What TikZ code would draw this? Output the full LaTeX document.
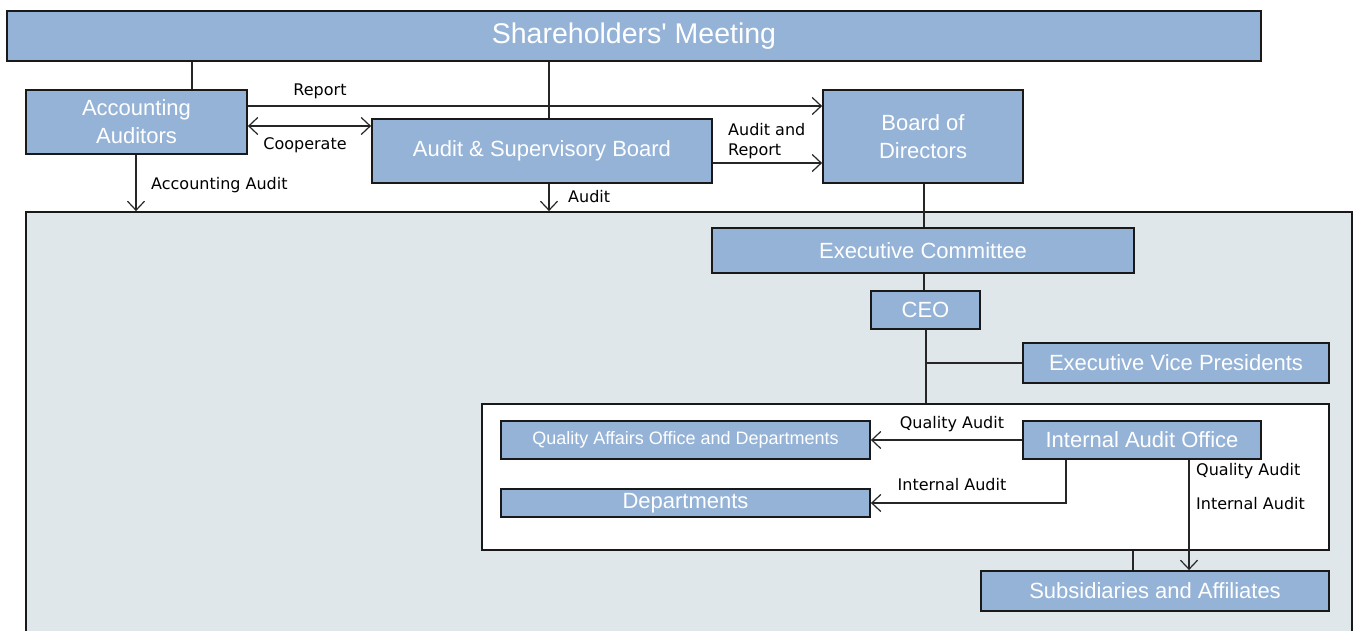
\documentclass[tikz,border=0pt]{standalone}
\usepackage{fontspec}
\setmainfont{Liberation Sans}
\newfontfamily\lblfont{DejaVu Sans}
\usetikzlibrary{arrows.meta}
\definecolor{boxblue}{RGB}{149,179,215}
\definecolor{panelgray}{RGB}{223,231,235}

\begin{document}
\begin{tikzpicture}[x=1pt,y=-1pt,>={Straight Barb[length=9pt,width=17pt]}]
  \tikzstyle{box}=[rectangle,draw=black!90,line width=1.8pt,fill=boxblue,text=white,inner sep=0pt,align=center,font=\fontsize{22}{28}\selectfont]
  \tikzstyle{frame}=[rectangle,draw=black!90,line width=1.8pt,inner sep=0pt]
  \tikzstyle{line}=[draw=black!85,line width=1.2pt]
  \tikzstyle{arr}=[line,->]
  \tikzstyle{lbl}=[inner sep=0pt,font=\lblfont\fontsize{16}{20}\selectfont]

  \clip (0,0) rectangle (1357,631);

  \node[frame, fill=panelgray, minimum width=1326pt, minimum height=450pt] (grp) at (689, 437) {};
  \node[frame, fill=white, minimum width=847pt, minimum height=146pt] (inner) at (905.5, 477) {};

  \node[box, minimum width=1254pt, minimum height=50pt, font=\fontsize{28.5}{30}\selectfont] (sh) at (634, 36) {Shareholders\textquotesingle{} Meeting};
  \node[box, minimum width=221pt, minimum height=64pt] (aa)  at (136.5, 122) {Accounting\\Auditors};
  \node[box, minimum width=340pt, minimum height=64pt] (asb) at (542, 151)   {Audit \& Supervisory Board};
  \node[box, minimum width=200pt, minimum height=93pt] (bod) at (923, 136.5) {Board of\\Directors};
  \node[box, minimum width=422pt, minimum height=45pt] (exc) at (923, 250.5) {Executive Committee};
  \node[box, minimum width=109pt, minimum height=38pt] (ceo) at (925.5, 310) {CEO};
  \node[box, minimum width=306pt, minimum height=40pt] (evp) at (1176, 363)  {Executive Vice Presidents};
  \node[box, minimum width=369pt, minimum height=38pt, font=\fontsize{18}{20}\selectfont] (qao) at (685.5, 440) {Quality Affairs Office and Departments};
  \node[box, minimum width=238pt, minimum height=38pt] (iao) at (1142, 440)  {Internal Audit Office};
  \node[box, minimum width=369pt, minimum height=28pt] (dep) at (685.5, 503) {Departments};
  \node[box, minimum width=348pt, minimum height=40pt] (sub) at (1155, 591)  {Subsidiaries and Affiliates};

  % top part
  \coordinate (x1) at (192, 0);
  \coordinate (x2) at (549, 0);
  \coordinate (x3) at (136, 0);
  \coordinate (y1) at (0, 106);
  \coordinate (y2) at (0, 126);
  \coordinate (y3) at (0, 163);
  \draw[line] (sh.south -| x1) -- (aa.north -| x1);
  \draw[line] (sh.south -| x2) -- (asb.north -| x2);
  \draw[arr] (aa.east |- y1) -- (bod.west |- y1);
  \draw[line,<->] (aa.east |- y2) -- (asb.west |- y2);
  \draw[arr] (asb.east |- y3) -- (bod.west |- y3);
  \draw[arr] (aa.south -| x3) -- (grp.north -| x3);
  \draw[arr] (asb.south -| x2) -- (grp.north -| x2);

  \node[lbl] (l1) at (320, 91)  {Report};
  \node[lbl] (l2) at (305, 145) {Cooperate};
  \node[lbl, anchor=west, align=left] (l3) at (728, 141) {Audit and\\Report};
  \node[lbl, anchor=west] (l4) at (151, 185) {Accounting Audit};
  \node[lbl, anchor=west] (l5) at (568, 197) {Audit};

  % inside the company
  \coordinate (x0) at (924, 0);
  \coordinate (x4) at (926, 0);
  \coordinate (x5) at (1066, 0);
  \coordinate (x6) at (1189, 0);
  \coordinate (x7) at (1133, 0);
  \draw[line] (bod.south -| x0) -- (exc.north -| x0);
  \draw[line] (exc.south -| x0) -- (ceo.north -| x0);
  \draw[line] (ceo.south -| x4) -- (inner.north -| x4);
  \draw[line] (evp.west) -- (evp.west -| x4);
  \draw[arr] (iao.west) -- (qao.east);
  \draw[arr] (iao.south -| x5) |- (dep.east);
  \draw[arr] (iao.south -| x6) -- (sub.north -| x6);
  \draw[line] (inner.south -| x7) -- (sub.north -| x7);

  \node[lbl] (l6) at (952, 424) {Quality Audit};
  \node[lbl] (l7) at (952, 485) {Internal Audit};
  \node[lbl, anchor=west] (l8) at (1196, 471) {Quality Audit};
  \node[lbl, anchor=west] (l9) at (1196, 504) {Internal Audit};
\end{tikzpicture}
\end{document}
